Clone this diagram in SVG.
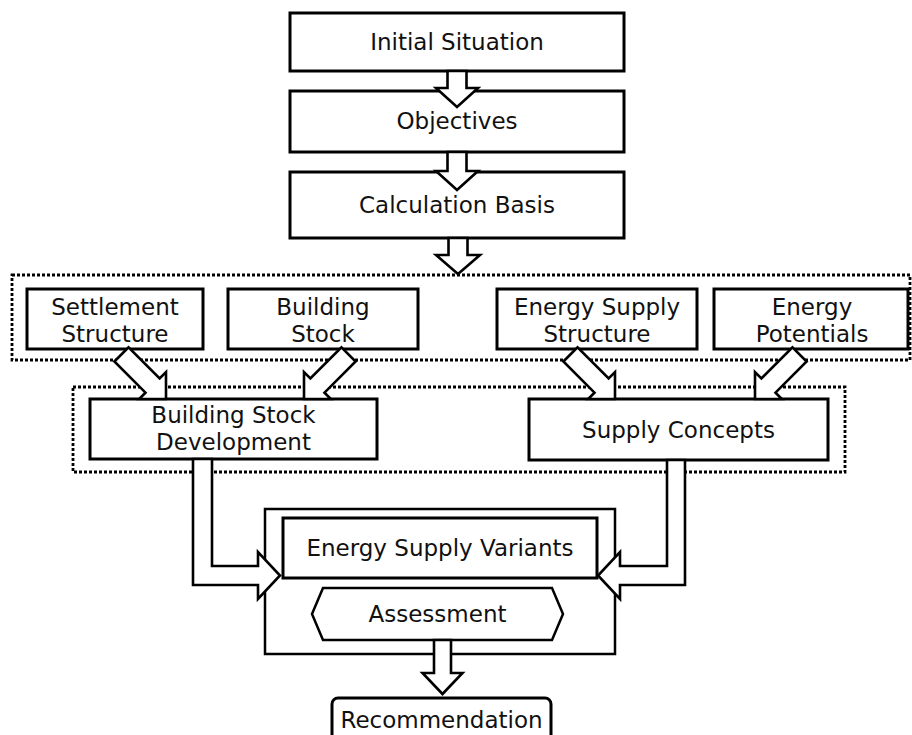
<svg xmlns="http://www.w3.org/2000/svg" width="912" height="735" viewBox="0 0 912 735">
<style>
.box{fill:#fff;stroke:#000;stroke-width:3}
.frame{fill:none;stroke:#000;stroke-width:2.5}
.dot{fill:none;stroke:#000;stroke-width:2.8;stroke-dasharray:3 2}
.arr{fill:#fff;stroke:#000;stroke-width:2.6;stroke-linejoin:miter}
text{font-family:"DejaVu Sans","Verdana",sans-serif;font-size:23px;fill:#111;text-anchor:middle}
</style>
<defs>
<path id="diag" d="M-10,-63 L10,-63 L10,-19 L19,-19 L0,0 L-19,-19 L-10,-19 Z"/>
</defs>
<rect width="912" height="735" fill="#fff"/>
<g id="groups">
<rect class="dot" x="12" y="275" width="898" height="85"/>
<rect class="dot" x="73" y="387" width="772" height="85"/>
<rect class="frame" x="265" y="509" width="350" height="145"/>
</g>
<g id="n-initial"><rect class="box" x="290" y="13" width="334" height="58"/><text x="457" y="50">Initial Situation</text></g>
<g id="n-objectives"><rect class="box" x="290" y="91" width="334" height="61"/><text x="457" y="129">Objectives</text></g>
<g id="n-calc"><rect class="box" x="290" y="172" width="334" height="66"/><text x="457" y="213">Calculation Basis</text></g>
<g id="n-settlement"><rect class="box" x="27" y="289" width="176" height="60"/><text x="115" y="315">Settlement</text><text x="115" y="342">Structure</text></g>
<g id="n-buildingstock"><rect class="box" x="228" y="289" width="190" height="60"/><text x="323" y="315">Building</text><text x="323" y="342">Stock</text></g>
<g id="n-ess"><rect class="box" x="497" y="289" width="200" height="60"/><text x="597" y="315">Energy Supply</text><text x="597" y="342">Structure</text></g>
<g id="n-potentials"><rect class="box" x="714" y="289" width="194" height="60"/><text x="812" y="315">Energy</text><text x="812" y="342">Potentials</text></g>
<g id="n-bsd"><rect class="box" x="90" y="399" width="287" height="60"/><text x="233.5" y="423">Building Stock</text><text x="233.5" y="450">Development</text></g>
<g id="n-supply"><rect class="box" x="529" y="399" width="299" height="61"/><text x="678.5" y="438">Supply Concepts</text></g>
<g id="n-variants"><rect class="box" x="283" y="518" width="314" height="60"/><text x="440" y="556">Energy Supply Variants</text></g>
<g id="n-assessment"><path class="frame" d="M312,614 L323,588 L552,588 L563,614 L552,640 L323,640 Z" style="fill:#fff"/><text x="437.5" y="622">Assessment</text></g>
<g id="n-recommendation"><rect class="box" x="332" y="698" width="219" height="50" rx="6"/><text x="441.5" y="728">Recommendation</text></g>
<g id="connectors">
<path class="arr" d="M447.5,71 L466.5,71 L466.5,88 L478,88 L457,107 L436,88 L447.5,88 Z"/>
<path class="arr" d="M447.5,152 L466.5,152 L466.5,171 L478,171 L457,190 L436,171 L447.5,171 Z"/>
<path class="arr" d="M448.5,238 L467.5,238 L467.5,255 L480,255 L458,274 L436,255 L448.5,255 Z"/>
<use href="#diag" class="arr" transform="translate(166,399) rotate(-45)"/>
<use href="#diag" class="arr" transform="translate(304,399) rotate(45)"/>
<use href="#diag" class="arr" transform="translate(615,399) rotate(-45)"/>
<use href="#diag" class="arr" transform="translate(755,399) rotate(45)"/>
<path class="arr" d="M193,459 L212,459 L212,566 L258,566 L258,552 L280,575.5 L258,599 L258,585 L193,585 Z"/>
<path class="arr" d="M667,460 L685,460 L685,585 L620,585 L620,599 L598,575.5 L620,552 L620,566 L667,566 Z"/>
<path class="arr" d="M434,640 L451,640 L451,673 L462.5,673 L442.5,694 L422.5,673 L434,673 Z"/>
</g>
</svg>
